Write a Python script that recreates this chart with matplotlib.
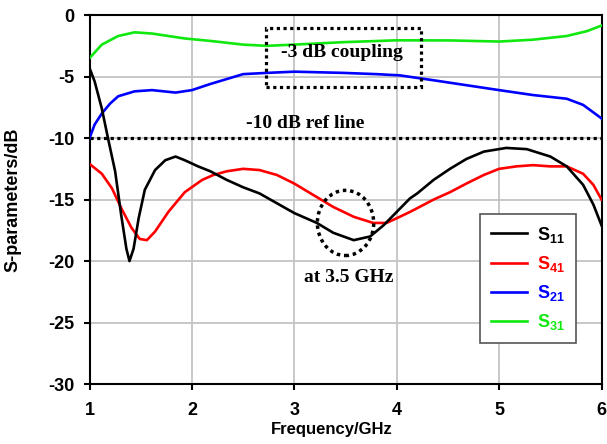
import matplotlib
matplotlib.use("Agg")
import matplotlib.pyplot as plt
from matplotlib.patches import Ellipse, Rectangle

# Data (frequency in GHz, level in dB)
s11_f = [1.00, 1.05, 1.12, 1.18, 1.25, 1.31, 1.36, 1.39, 1.43, 1.48, 1.54, 1.64, 1.74, 1.84,
         1.93, 2.06, 2.18, 2.34, 2.50, 2.66, 2.83, 3.00, 3.22, 3.38, 3.58, 3.74, 3.87, 4.00,
         4.13, 4.20, 4.36, 4.52, 4.68, 4.85, 5.07, 5.27, 5.50, 5.66, 5.82, 5.92, 6.00]
s11_db = [-4.3, -5.4, -7.6, -10.0, -12.7, -16.3, -19.0, -20.0, -19.0, -16.5, -14.2, -12.6, -11.8, -11.5,
          -11.8, -12.3, -12.7, -13.4, -14.0, -14.5, -15.3, -16.1, -16.9, -17.7, -18.3, -18.0, -17.1, -16.0,
          -14.9, -14.5, -13.4, -12.5, -11.7, -11.1, -10.8, -10.9, -11.5, -12.3, -13.8, -15.4, -17.1]

s41_f = [1.00, 1.12, 1.22, 1.31, 1.41, 1.49, 1.56, 1.64, 1.77, 1.93, 2.10, 2.21, 2.34, 2.50,
         2.66, 2.83, 3.00, 3.22, 3.38, 3.58, 3.77, 3.90, 4.03, 4.13, 4.20, 4.36, 4.52, 4.68,
         4.85, 5.00, 5.17, 5.33, 5.50, 5.66, 5.82, 5.92, 6.00]
s41_db = [-12.1, -12.9, -14.1, -15.7, -17.3, -18.2, -18.3, -17.6, -16.0, -14.4, -13.4, -13.0, -12.7, -12.5,
          -12.6, -13.0, -13.7, -14.8, -15.6, -16.4, -16.9, -16.9, -16.4, -16.0, -15.7, -15.0, -14.4, -13.7,
          -13.0, -12.5, -12.3, -12.2, -12.3, -12.3, -12.9, -13.8, -15.0]

s21_f = [1.00, 1.05, 1.12, 1.20, 1.28, 1.44, 1.61, 1.84, 2.00, 2.18, 2.34, 2.50, 2.73, 3.00,
         3.48, 3.80, 4.03, 4.36, 4.68, 5.00, 5.33, 5.66, 5.82, 6.00]
s21_db = [-10.0, -8.9, -8.0, -7.2, -6.6, -6.2, -6.1, -6.3, -6.1, -5.6, -5.2, -4.8, -4.7, -4.6,
          -4.7, -4.8, -4.9, -5.3, -5.7, -6.1, -6.5, -6.8, -7.3, -8.4]

s31_f = [1.00, 1.12, 1.28, 1.44, 1.61, 1.77, 1.93, 2.18, 2.50, 2.73, 3.00, 3.48, 4.00, 4.52,
         5.00, 5.33, 5.66, 5.86, 6.00]
s31_db = [-3.5, -2.4, -1.7, -1.4, -1.5, -1.7, -1.9, -2.1, -2.4, -2.5, -2.4, -2.2, -2.05, -2.06,
          -2.15, -2.0, -1.7, -1.3, -0.85]

plt.rcParams["axes.unicode_minus"] = False
plt.rcParams["mathtext.fontset"] = "custom"
plt.rcParams["mathtext.bf"] = "Liberation Sans:bold"
plt.rcParams["mathtext.rm"] = "Liberation Sans:bold"
plt.rcParams["mathtext.default"] = "bf"

fig = plt.figure(figsize=(6.07, 4.44), dpi=100)
ax = fig.add_axes([0.1475, 0.135, 0.8435, 0.831])

lw = 1.9
ax.plot(s11_f, s11_db, color="black", lw=lw, label="S$_{11}$", solid_joinstyle="round", zorder=4)
ax.plot(s41_f, s41_db, color="#ff0000", lw=lw, label="S$_{41}$", solid_joinstyle="round", zorder=3)
ax.plot(s21_f, s21_db, color="#0000ff", lw=lw, label="S$_{21}$", solid_joinstyle="round", zorder=3)
ax.plot(s31_f, s31_db, color="#10e810", lw=lw, label="S$_{31}$", solid_joinstyle="round", zorder=3)

# -10 dB reference line and annotations
dots = (0, (1, 1.1))
ax.axhline(-10, color="black", lw=2.3, linestyle=dots, zorder=2)
ax.add_patch(Rectangle((2.72, -5.83), 1.52, 4.75, fill=False, ec="black", lw=2.3, linestyle=dots, zorder=5))
ax.add_patch(Ellipse((3.50, -16.9), 0.55, 5.3, fill=False, ec="black", lw=2.5, linestyle=dots, zorder=5))

serif = dict(family="Liberation Serif", weight="bold", fontsize=14, ha="center", va="center")
ax.text(3.46, -3.05, "-3 dB coupling", **serif)
ax.text(3.11, -8.85, "-10 dB ref line", **serif)
ax.text(3.53, -21.3, "at 3.5 GHz", **serif)

ax.set_xlim(1, 6)
ax.set_ylim(-30, 0)
ax.set_xticks([1, 2, 3, 4, 5, 6])
ax.set_yticks([0, -5, -10, -15, -20, -25, -30])
ax.grid(True, color="#c4c4c4", lw=1.3)
ax.set_axisbelow(True)

for s in ax.spines.values():
    s.set_linewidth(1.5)
    s.set_color("black")
ax.tick_params(direction="out", length=4, width=1.5, top=False, right=False)
ax.tick_params(axis="y", pad=7)
ax.tick_params(axis="x", pad=9)
for lab in ax.get_xticklabels() + ax.get_yticklabels():
    lab.set_family("Liberation Sans")
    lab.set_weight("bold")
    lab.set_fontsize(13)

ax.set_xlabel("Frequency/GHz", family="Liberation Sans", weight="bold", fontsize=12)
ax.set_ylabel("S-parameters/dB", family="Liberation Sans", weight="bold", fontsize=13)
ax.xaxis.set_label_coords(0.473, -0.103)
ax.yaxis.set_label_coords(-0.132, 0.5)

leg = ax.legend(loc="upper left", bbox_to_anchor=(0.762, 0.461), borderaxespad=0, fancybox=False,
                edgecolor="#555555", framealpha=1, handlelength=2.0, borderpad=0.6,
                labelspacing=0.5, handletextpad=0.6,
                prop={"family": "Liberation Sans", "weight": "bold", "size": 13})
leg.get_frame().set_linewidth(1.2)
leg.set_zorder(6)
for t, l in zip(leg.get_texts(), leg.get_lines()):
    t.set_color(l.get_color())

fig.savefig("out.png", dpi=100)
